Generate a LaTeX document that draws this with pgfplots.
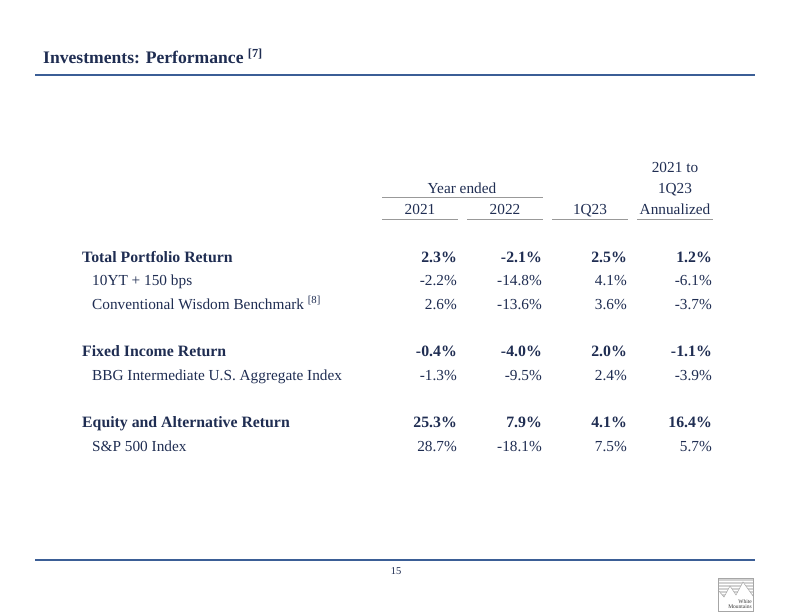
\documentclass[border=0pt]{standalone}
\usepackage{pgfplots}
\pgfplotsset{compat=1.18}
\usepackage{pgfplotstable}
\usepackage{fontspec}
\setmainfont{Liberation Serif}
\definecolor{navy}{HTML}{1F2D52}
\definecolor{rulec}{HTML}{3B5E96}
\newcommand{\nf}{\fontsize{15.3}{17}\selectfont}
\newcommand{\bff}{\fontsize{15.8}{18}\selectfont\bfseries}

\pgfplotstableread{
y a b c d
257 2.3 -2.1 2.5 1.2
351 -0.4 -4.0 2.0 -1.1
422 25.3 7.9 4.1 16.4
}\boldrows

\pgfplotstableread{
y a b c d
280 -2.2 -14.8 4.1 -6.1
304 2.6 -13.6 3.6 -3.7
375 -1.3 -9.5 2.4 -3.9
446 28.7 -18.1 7.5 5.7
}\normalrows

\begin{document}
\begin{tikzpicture}
\begin{axis}[width=792pt,height=612pt,scale only axis,
  xmin=0,xmax=792,ymin=0,ymax=612,y dir=reverse,
  hide axis, clip=false,
  point meta=explicit symbolic,
  nodes near coords={\pgfplotspointmeta\%},
  every node near coord/.append style={anchor=base east, yshift=-5pt, inner sep=0pt, text=navy, font=\nf}]
\path[fill=white] (axis cs:0,0) rectangle (axis cs:792,612);

% values
\addplot[draw=none, mark=none, every node near coord/.append style={font=\bff}] table[x expr=457, y=y, meta=a] {\boldrows};
\addplot[draw=none, mark=none, every node near coord/.append style={font=\bff}] table[x expr=542, y=y, meta=b] {\boldrows};
\addplot[draw=none, mark=none, every node near coord/.append style={font=\bff}] table[x expr=627, y=y, meta=c] {\boldrows};
\addplot[draw=none, mark=none, every node near coord/.append style={font=\bff}] table[x expr=712, y=y, meta=d] {\boldrows};
\addplot[draw=none, mark=none] table[x expr=457, y=y, meta=a] {\normalrows};
\addplot[draw=none, mark=none] table[x expr=542, y=y, meta=b] {\normalrows};
\addplot[draw=none, mark=none] table[x expr=627, y=y, meta=c] {\normalrows};
\addplot[draw=none, mark=none] table[x expr=712, y=y, meta=d] {\normalrows};

% title and rules
\node[anchor=base west, text=navy, font=\fontsize{17.6}{20}\selectfont\bfseries, inner sep=0pt] at (axis cs:43,64) {Investments: Performance \textsuperscript{[7]}};
\draw[rulec, line width=2pt] (axis cs:35,75) -- (axis cs:755,75);
\draw[rulec, line width=1.5pt] (axis cs:35,560) -- (axis cs:755,560);
\node[text=navy, font=\fontsize{10.5}{12}\selectfont, inner sep=0pt] at (axis cs:396,571) {15};

% headers
\begin{scope}[every node/.style={text=navy, font=\nf, inner sep=0pt, anchor=base}]
\node at (axis cs:675,173) {2021 to};
\node at (axis cs:462,194) {Year ended};
\node at (axis cs:675,194) {1Q23};
\node at (axis cs:420,215) {2021};
\node at (axis cs:505,215) {2022};
\node at (axis cs:590,215) {1Q23};
\node at (axis cs:675,215) {Annualized};
\end{scope}
\draw[gray!80, line width=1pt] (axis cs:382,198) -- (axis cs:543,198);
\draw[gray!80, line width=1pt] (axis cs:382,220) -- (axis cs:458,220);
\draw[gray!80, line width=1pt] (axis cs:467,220) -- (axis cs:543,220);
\draw[gray!80, line width=1pt] (axis cs:552,220) -- (axis cs:628,220);
\draw[gray!80, line width=1pt] (axis cs:637,220) -- (axis cs:713,220);

% row labels
\begin{scope}[every node/.style={text=navy, font=\nf, inner sep=0pt, anchor=base west}]
\node[font=\bff] at (axis cs:82,262) {Total Portfolio Return};
\node at (axis cs:92,285) {10YT + 150 bps};
\node at (axis cs:92,309) {Conventional Wisdom Benchmark \textsuperscript{[8]}};
\node[font=\bff] at (axis cs:82,356) {Fixed Income Return};
\node at (axis cs:92,380) {BBG Intermediate U.S. Aggregate Index};
\node[font=\bff] at (axis cs:82,427) {Equity and Alternative Return};
\node at (axis cs:92,451) {S\&P 500 Index};
\end{scope}

% logo
\fill[gray!35] (axis cs:718,578) rectangle (axis cs:753,611);
\draw[white, line width=0.6pt] (axis cs:718,581) -- (axis cs:753,581);
\draw[white, line width=0.6pt] (axis cs:718,584) -- (axis cs:753,584);
\draw[white, line width=0.6pt] (axis cs:718,587) -- (axis cs:753,587);
\draw[white, line width=0.6pt] (axis cs:718,590) -- (axis cs:753,590);
\draw[white, line width=0.6pt] (axis cs:718,593) -- (axis cs:753,593);
\fill[white] (axis cs:718,590) -- (axis cs:724,597) -- (axis cs:730,586) -- (axis cs:736,595) -- (axis cs:743,582) -- (axis cs:753,596) -- (axis cs:753,611) -- (axis cs:718,611) -- cycle;
\draw[gray!70, line width=0.5pt] (axis cs:718,590) -- (axis cs:724,597) -- (axis cs:730,586) -- (axis cs:736,595) -- (axis cs:743,582) -- (axis cs:753,596);
\draw[gray!70, line width=0.5pt] (axis cs:718,578) rectangle (axis cs:753,611);
\node[anchor=east, inner sep=0pt, font=\fontsize{5.5}{5.5}\selectfont, text=black!80, align=right] at (axis cs:752,604) {White\\Mountains};
\end{axis}
\end{tikzpicture}
\end{document}
